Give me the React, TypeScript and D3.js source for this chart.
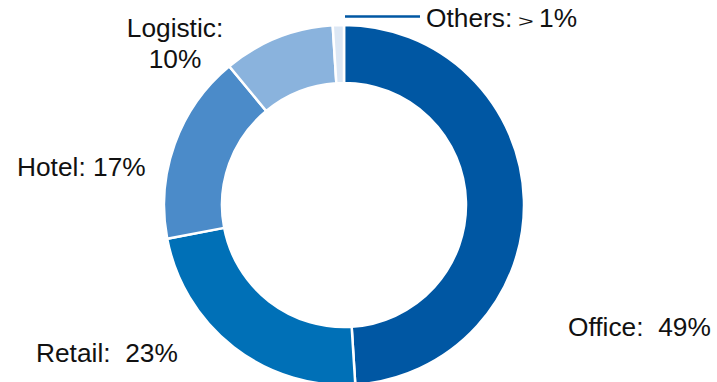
import React from "react";
import * as d3 from "d3";

const categories = ["Office", "Retail", "Hotel", "Logistic", "Others"];
const values = [49, 23, 17, 10, 1];
const colors = ["#0057A3", "#0070B7", "#4B8BC9", "#8AB3DD", "#DCE7F4"];

export default function App() {
  const W = 717, H = 382;
  const cx = 344, cy = 205, outerR = 180, innerR = 122;
  const pie = d3.pie<number>().sort(null).value((d) => d)(values);
  const arc = d3.arc<d3.PieArcDatum<number>>().innerRadius(innerR).outerRadius(outerR);
  const font = "'Liberation Sans', Arial, sans-serif";
  return (
    <svg width={W} height={H} style={{ position: "absolute", left: 0, top: 0, display: "block" }} fontFamily={font}>
      <g transform={`translate(${cx},${cy})`}>
        {pie.map((p, i) => (
          <path key={categories[i]} d={arc(p) || ""} fill={colors[i]} stroke="#fff" strokeWidth={2.5} />
        ))}
      </g>
      <line x1={345} y1={16.5} x2={420} y2={16.5} stroke="#0057A3" strokeWidth={2.5} />
      <text x={426} y={27} fontSize={26.3} fill="#111">
        {categories[4]}:
        <tspan x={539}>{values[4]}%</tspan>
      </text>
      <text transform="translate(518,27) scale(1.35,0.8)" fontSize={20} fill="#111">&gt;</text>
      <text x={175} y={37} fontSize={26.3} fill="#111" textAnchor="middle">{categories[3]}:</text>
      <text x={175} y={68} fontSize={26.3} fill="#111" textAnchor="middle">{values[3]}%</text>
      <text x={17} y={176} fontSize={26.3} fill="#111">{categories[2]}: {values[2]}%</text>
      <text x={36} y={362} fontSize={26.3} fill="#111" style={{ whiteSpace: "pre" }}>{`${categories[1]}:  ${values[1]}%`}</text>
      <text x={568} y={336} fontSize={26.3} fill="#111" style={{ whiteSpace: "pre" }}>{`${categories[0]}:  ${values[0]}%`}</text>
    </svg>
  );
}
